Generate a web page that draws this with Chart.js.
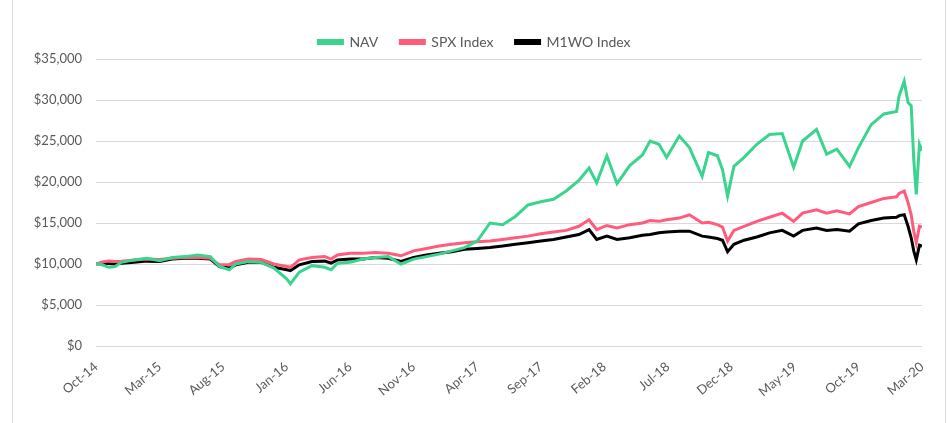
<!DOCTYPE html>
<html>
<head>
<meta charset="utf-8">
<script src="https://cdn.jsdelivr.net/npm/chart.js@4"></script>
<style>
  body { margin: 0; background: #fff; }
  .frame { position: absolute; left: 12px; top: -5px; width: 932px; height: 440px; border: 1px solid #d9d9d9; }
  #wrap { position: absolute; left: 0; top: 0; width: 949px; height: 423px; }
</style>
</head>
<body>
<div class="frame"></div>
<div id="wrap"><canvas id="chart"></canvas></div>
<script>
// months since Oct-14 (fractions where the picture has a sharp turn)
const months = [0, 0.5, 1, 1.5, 2, 3, 4, 5, 6, 7, 8, 9, 9.7, 10.5, 11, 12, 13, 14, 15, 15.3, 16, 17, 18, 18.5, 19, 20,
  21, 22, 23, 24, 25, 26, 27, 28, 29, 30, 31, 32, 33, 34, 35, 36, 37, 38, 38.8, 39.4, 40.2, 41, 42, 43, 43.6,
  44.3, 44.9, 45.9, 46.7, 47.7, 48.2, 48.9, 49.3, 49.7, 50.2, 51, 52, 53, 54, 54.9, 55.6, 56.7, 57.5, 58.3,
  59.3, 60, 61, 62, 63, 63.2, 63.6, 63.9, 64.15, 64.35, 64.55, 64.8, 65];

const nav = [10000, 9900, 9600, 9700, 10200, 10500, 10700, 10400, 10800, 10900, 11100, 10900, 9700, 9300, 10000, 10300,
  10200, 9500, 8200, 7600, 9000, 9800, 9600, 9300, 10100, 10200,
  10600, 10800, 10900, 10000, 10600, 10900, 11200, 11600, 12000, 12800, 15000, 14800, 15800, 17200, 17600, 17900, 18900, 20200, 21700, 19900, 23200, 19800, 22000, 23300, 25000,
  24600, 23000, 25600, 24200, 20700, 23600, 23200, 21500, 18300, 21900, 23000, 24600, 25800, 25900, 21800, 25000, 26400, 23400, 24000,
  21900, 24200, 27000, 28300, 28600, 30500, 32300, 29700, 29300, 22800, 18500, 24600, 23800];

const spx = [10000, 10250, 10350, 10300, 10350, 10500, 10600, 10550, 10700, 10800, 10800, 10700, 9900, 9950, 10300, 10600,
  10550, 10000, 9700, 9600, 10500, 10800, 10900, 10600, 11100, 11300,
  11300, 11400, 11300, 11000, 11600, 11900, 12200, 12400, 12600, 12700, 12800, 13000, 13200, 13400, 13700, 13900, 14100, 14600, 15400, 14200, 14700, 14400, 14800, 15000, 15300,
  15200, 15400, 15600, 16000, 15000, 15100, 14800, 14500, 12800, 14100, 14600, 15200, 15700, 16200, 15200, 16200, 16600, 16200, 16500,
  16100, 17000, 17500, 18000, 18200, 18600, 18900, 17500, 16000, 14000, 12600, 14600, 14500];

const miwo = [10000, 10100, 10050, 10000, 10100, 10200, 10350, 10300, 10600, 10700, 10700, 10600, 9700, 9500, 9900, 10200,
  10200, 9600, 9300, 9200, 9900, 10300, 10350, 10100, 10500, 10600,
  10600, 10800, 10700, 10300, 10800, 11100, 11300, 11500, 11800, 11900, 12000, 12200, 12400, 12600, 12800, 13000, 13300, 13600, 14200, 13000, 13400, 13000, 13200, 13500, 13600,
  13800, 13900, 14000, 14000, 13400, 13300, 13100, 12900, 11500, 12400, 12900, 13300, 13800, 14100, 13400, 14100, 14400, 14100, 14200,
  14000, 14900, 15300, 15600, 15700, 15900, 16000, 14600, 13200, 11600, 10500, 12300, 12200];

const tickLabels = ['Oct-14', 'Mar-15', 'Aug-15', 'Jan-16', 'Jun-16', 'Nov-16', 'Apr-17', 'Sep-17', 'Feb-18',
  'Jul-18', 'Dec-18', 'May-19', 'Oct-19', 'Mar-20'];

const grey = '#595959';
const font = { family: 'Lato', size: 13 };

function series(values) {
  return months.map((m, i) => ({ x: m, y: values[i] }));
}

function line(label, values, color) {
  return {
    label: label,
    data: series(values),
    borderColor: color,
    backgroundColor: color,
    borderWidth: 3,
    pointRadius: 0,
    tension: 0
  };
}

new Chart(document.getElementById('chart'), {
  type: 'line',
  data: {
    datasets: [
      line('NAV', nav, '#3ad48e'),
      line('SPX Index', spx, '#ff5c7c'),
      line('M1WO Index', miwo, '#000000')
    ]
  },
  options: {
    responsive: true,
    maintainAspectRatio: false,
    animation: false,
    layout: { padding: { top: 13, right: 27, left: 27, bottom: 0 } },
    plugins: {
      tooltip: { enabled: false },
      legend: {
        position: 'top',
        labels: { color: grey, font: { family: 'Lato', size: 14 }, boxWidth: 24, boxHeight: 3, padding: 22 }
      }
    },
    scales: {
      x: {
        type: 'linear',
        min: 0,
        max: 65,
        grid: { display: false },
        border: { display: false },
        afterFit: (scale) => { scale.height = 77; },
        ticks: {
          stepSize: 5,
          autoSkip: false,
          minRotation: 40,
          maxRotation: 40,
          color: grey,
          font: font,
          padding: 5,
          callback: (value) => tickLabels[value / 5]
        }
      },
      y: {
        min: 0,
        max: 35000,
        border: { display: false },
        grid: { color: '#d9d9d9', drawTicks: false },
        afterFit: (scale) => { scale.width = 69; },
        ticks: {
          stepSize: 5000,
          color: grey,
          font: font,
          padding: 14,
          callback: (value) => '$' + value.toLocaleString('en-US')
        }
      }
    }
  }
});
</script>
</body>
</html>
